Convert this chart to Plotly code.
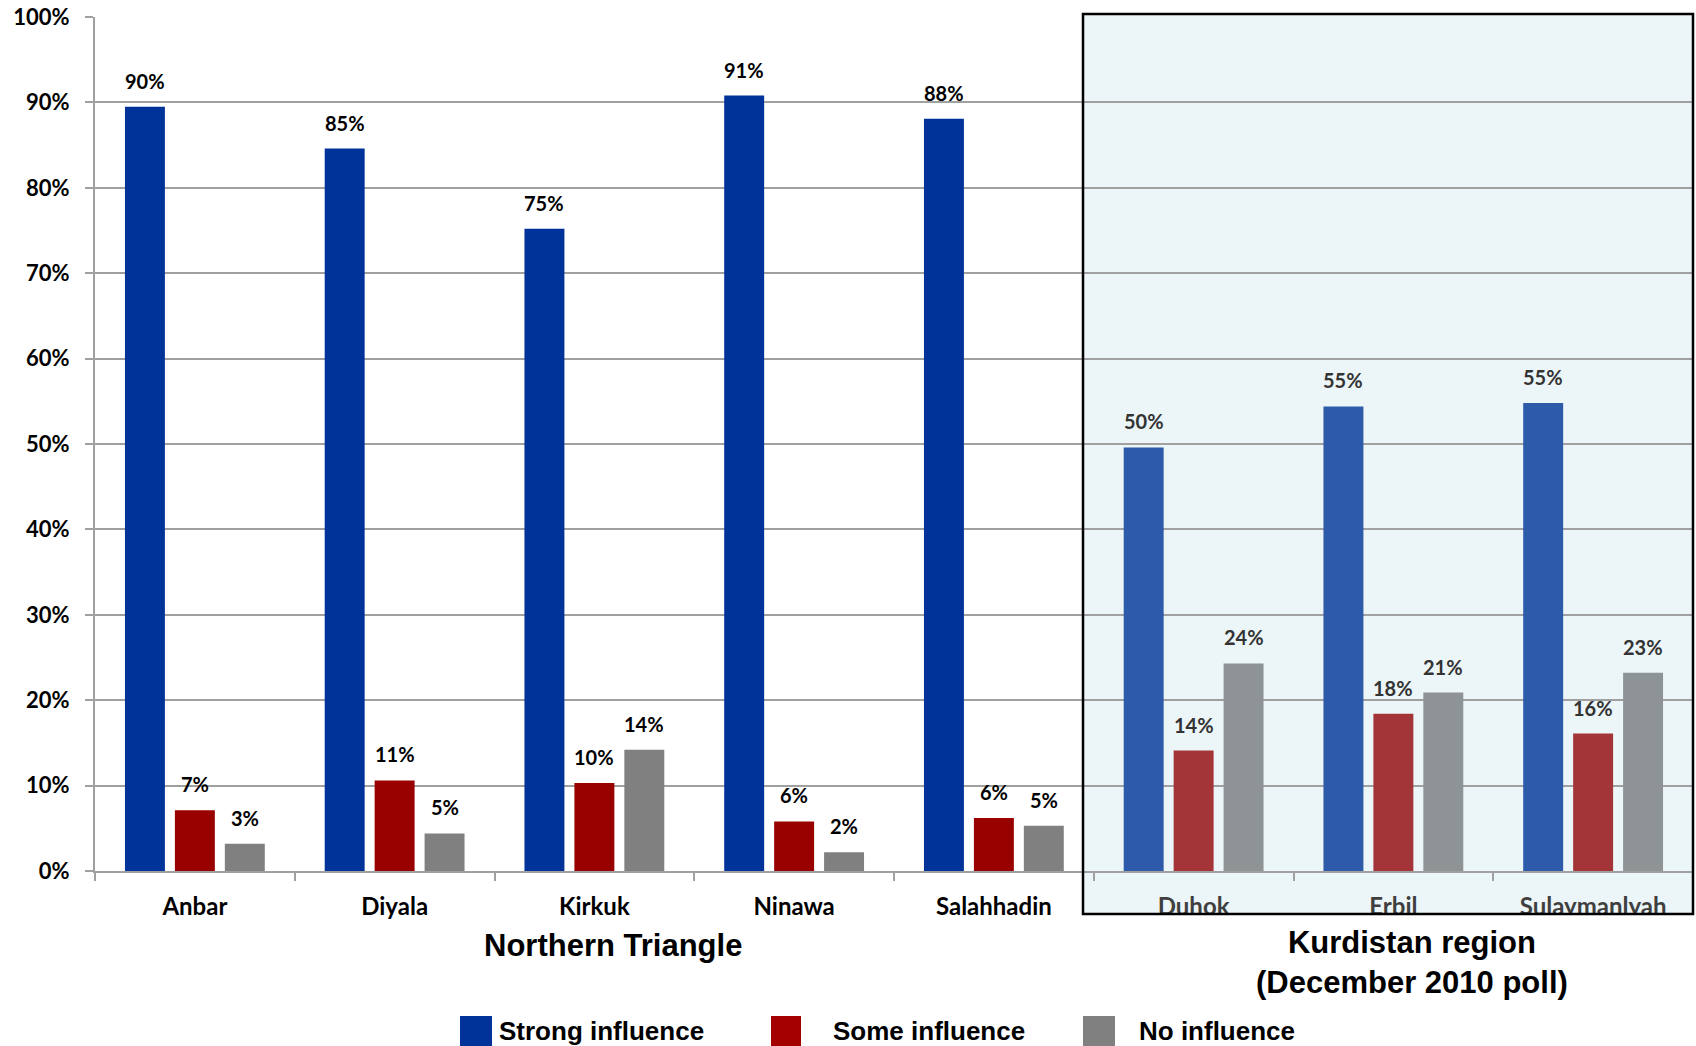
import plotly.graph_objects as go

# ---------------- data ----------------
categories = ["Anbar", "Diyala", "Kirkuk", "Ninawa", "Salahhadin",
              "Duhok", "Erbil", "Sulaymanlyah"]
strong = [89.5, 84.6, 75.2, 90.8, 88.1, 49.6, 54.4, 54.8]
some = [7.1, 10.6, 10.3, 5.8, 6.2, 14.1, 18.4, 16.1]
none_ = [3.2, 4.4, 14.2, 2.2, 5.3, 24.3, 20.9, 23.2]
strong_labels = ["90%", "85%", "75%", "91%", "88%", "50%", "55%", "55%"]
some_labels = ["7%", "11%", "10%", "6%", "6%", "14%", "18%", "16%"]
none_labels = ["3%", "5%", "14%", "2%", "5%", "24%", "21%", "23%"]
region = ["N", "N", "N", "N", "N", "K", "K", "K"]
series_names = ["Strong influence", "Some influence", "No influence"]
y_ticks = [0, 10, 20, 30, 40, 50, 60, 70, 80, 90, 100]

# ---------------- styles ----------------
col_n = ["#003399", "#990000", "#808080"]
col_k = ["#2E5AAA", "#A33437", "#8E9496"]
W, H = 1696, 1046
L, R, T, B = 95, 3, 17, 175
pw, ph = W - L - R, H - T - B


def px_x(p):
    return (p - L) / pw


def px_y(p):
    return (H - B - p) / ph


fig = go.Figure()
series = [strong, some, none_]
labels = [strong_labels, some_labels, none_labels]
for s, (vals, name) in enumerate(zip(series, series_names)):
    colors = [col_n[s] if r == "N" else col_k[s] for r in region]
    fig.add_trace(go.Bar(
        x=categories, y=vals, name=name,
        marker=dict(color=colors, line=dict(width=0)),
        showlegend=False, hoverinfo="skip",
    ))

annotations = []
offsets = [-0.25, 0.0, 0.25]
for s in range(3):
    for i, (v, lab) in enumerate(zip(series[s], labels[s])):
        annotations.append(dict(
            x=i + offsets[s], y=v, xref="x", yref="y", text="<b>%s</b>" % lab,
            showarrow=False, xanchor="center", yanchor="middle", yshift=26,
            font=dict(family="Lato", size=20,
                      color="#000000" if region[i] == "N" else "#333333"),
        ))

# Group titles
annotations.append(dict(
    x=px_x(613), y=px_y(945), xref="paper", yref="paper",
    xanchor="center", yanchor="middle",
    text="<b>Northern Triangle</b>", showarrow=False,
    font=dict(family="Liberation Sans", size=31, color="#000000"),
))
annotations.append(dict(
    x=px_x(1412), y=px_y(962), xref="paper", yref="paper",
    xanchor="center", yanchor="middle",
    text="<b>Kurdistan region<br>(December 2010 poll)</b>", showarrow=False,
    font=dict(family="Liberation Sans", size=31, color="#000000"),
))

shapes = []
# Kurdistan box background (below gridlines)
shapes.append(dict(type="rect", xref="paper", yref="paper",
                   x0=px_x(1083), x1=px_x(1693), y0=px_y(914), y1=px_y(14),
                   fillcolor="#ECF5F7", line=dict(width=0), layer="below"))
# white strip clipping the bottom of the Kurdistan tick labels
shapes.append(dict(type="rect", xref="paper", yref="paper",
                   x0=px_x(1083), x1=px_x(1695), y0=px_y(930), y1=px_y(914),
                   fillcolor="#FFFFFF", line=dict(width=0), layer="above"))
# Kurdistan box border
shapes.append(dict(type="rect", xref="paper", yref="paper",
                   x0=px_x(1083), x1=px_x(1693), y0=px_y(914), y1=px_y(14),
                   fillcolor="rgba(0,0,0,0)", line=dict(width=2.5, color="#000000"),
                   layer="above"))

# Legend (custom large squares)
legend_sq = [(460, 492), (771, 801), (1083, 1115)]
legend_tx = [497, 831, 1137]
legend_col = ["#003399", "#A50000", "#808080"]
for s in range(3):
    x0, x1 = legend_sq[s]
    shapes.append(dict(type="rect", xref="paper", yref="paper",
                       x0=px_x(x0), x1=px_x(x1), y0=px_y(1060), y1=px_y(1016),
                       fillcolor=legend_col[s], line=dict(width=0), layer="above"))
    annotations.append(dict(
        x=px_x(legend_tx[s]), y=px_y(1031), xref="paper", yref="paper",
        xanchor="left", yanchor="middle", text="<b>%s</b>" % series_names[s],
        showarrow=False,
        font=dict(family="Liberation Sans", size=26, color="#000000"),
    ))

ticktext = ["<b>%s</b>" % c if r == "N" else
            "<span style='color:#3F3F3F'><b>%s</b></span>" % c
            for c, r in zip(categories, region)]

fig.update_layout(
    width=W, height=H,
    margin=dict(l=L, r=R, t=T, b=B, pad=0),
    paper_bgcolor="#FFFFFF", plot_bgcolor="rgba(0,0,0,0)",
    barmode="group", bargap=0.25, bargroupgap=0.2,
    showlegend=False,
    annotations=annotations, shapes=shapes,
    xaxis=dict(
        type="category", tickmode="array", tickvals=categories, ticktext=ticktext,
        tickson="boundaries", ticks="outside", ticklen=8, tickwidth=1.5,
        tickcolor="#A0A0A0", showgrid=False, showline=True, linecolor="#A0A0A0",
        linewidth=2, ticklabelstandoff=13, range=[-0.5, 7.5],
        tickfont=dict(family="Lato", size=24, color="#000000"),
    ),
    yaxis=dict(
        range=[0, 100], tickmode="array", tickvals=y_ticks,
        ticktext=["<b>%d%%</b>" % v for v in y_ticks],
        ticks="outside", ticklen=8, tickwidth=2, tickcolor="#A0A0A0",
        showgrid=True, gridcolor="#A0A0A0", gridwidth=2,
        showline=True, linecolor="#A0A0A0", linewidth=2,
        zeroline=False, ticklabelstandoff=11,
        tickfont=dict(family="Lato", size=22, color="#000000"),
    ),
)

fig.write_html("out.html",
               config={"displayModeBar": False},
               post_script="document.body.style.margin='0';"
                           "document.body.style.overflow='hidden';")
